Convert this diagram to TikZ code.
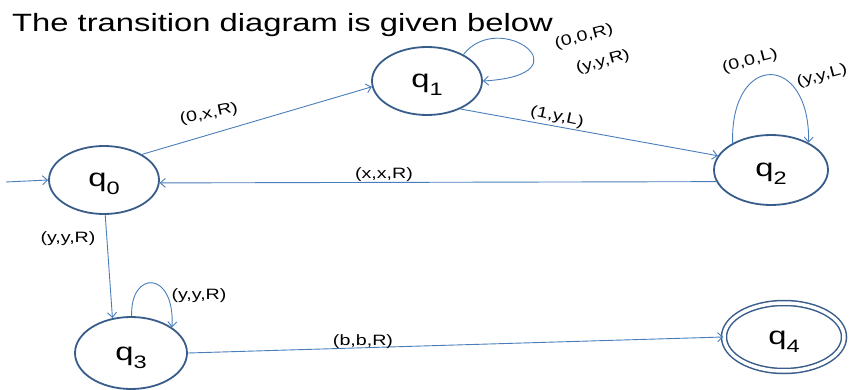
\documentclass[tikz,border=0pt]{standalone}
\usepackage{fontspec}
\setmainfont{Liberation Sans}
\usetikzlibrary{shapes.geometric,arrows.meta}
\definecolor{stateblue}{HTML}{385D8A}
\definecolor{edgeblue}{HTML}{4A7EBB}
\newcommand{\stretchtxt}[1]{\scalebox{1.31}[1]{#1}}
\newcommand{\qlab}[1]{\stretchtxt{\fontsize{25}{25}\selectfont q\raisebox{-8pt}{\fontsize{18}{18}\selectfont #1}}}
\newcommand{\elab}[1]{\stretchtxt{\fontsize{15}{15}\selectfont #1}}
\begin{document}
\begin{tikzpicture}[x=1pt,y=-1pt,
  state/.style={ellipse, draw=stateblue, line width=1.8pt, inner sep=0pt,
    minimum width=110pt, minimum height=68pt, text height=20pt, text depth=6pt},
  accept/.style={state, line width=1.5pt, double, double distance=3.5pt,
    minimum width=120pt, minimum height=68pt},
  edge/.style={draw=edgeblue, line width=0.9pt, -{Straight Barb[length=5pt,width=9pt]}},
  lab/.style={inner sep=0pt, text=black}]
\fill[white] (0,0) rectangle (851,390);
\useasboundingbox (0,0) rectangle (851,390);

\node[lab, anchor=base west] (title) at (12,32)
  {\stretchtxt{\fontsize{25}{30}\selectfont The transition diagram is given below}};

\node[state] (q0) at (104,180) {\qlab{0}};
\node[state] (q1) at (427,81) {\qlab{1}};
\node[state, minimum width=114pt, minimum height=70pt] (q2) at (771,170) {\qlab{2}};
\node[state, minimum width=112pt, minimum height=72pt] (q3) at (131,353) {\qlab{3}};
\node[accept] (q4) at (784,337) {\qlab{4}};

\coordinate (init) at (6,182);
\draw[edge] (init) -- (q0.west);
\draw[edge] (q0.34) -- (q1.186);
\draw[edge] (q1.320) -- (q2.165);
\draw[edge] (q2.192) -- (q0.357);
\draw[edge] (q0.272) -- (q3.118);
\draw[edge] (q3.east) -- (q4.west);

% self loops
\draw[edge] (q1.36) .. controls (500,8) and (590,75) .. (q1.0);
\draw[edge] (q2.145) .. controls (730,52) and (810,52) .. (q2.36);
\draw[edge] (q3.89) .. controls (130,270) and (175,270) .. (q3.32);

% labels
\node[lab, rotate=12] (l01) at (209,114) {\elab{(0,x,R)}};
\node[lab, rotate=-12] (l12) at (557,117) {\elab{(1,y,L)}};
\node[lab] (l20) at (384,175) {\elab{(x,x,R)}};
\node[lab, rotate=15] (l11a) at (584,37) {\elab{(0,0,R)}};
\node[lab, rotate=15] (l11b) at (603,62) {\elab{(y,y,R)}};
\node[lab, rotate=15] (l22a) at (750,61) {\elab{(0,0,L)}};
\node[lab, rotate=15] (l22b) at (822,76) {\elab{(y,y,L)}};
\node[lab] (l03) at (68,239) {\elab{(y,y,R)}};
\node[lab] (l33) at (199,296) {\elab{(y,y,R)}};
\node[lab] (l34) at (363,342) {\elab{(b,b,R)}};
\end{tikzpicture}
\end{document}
